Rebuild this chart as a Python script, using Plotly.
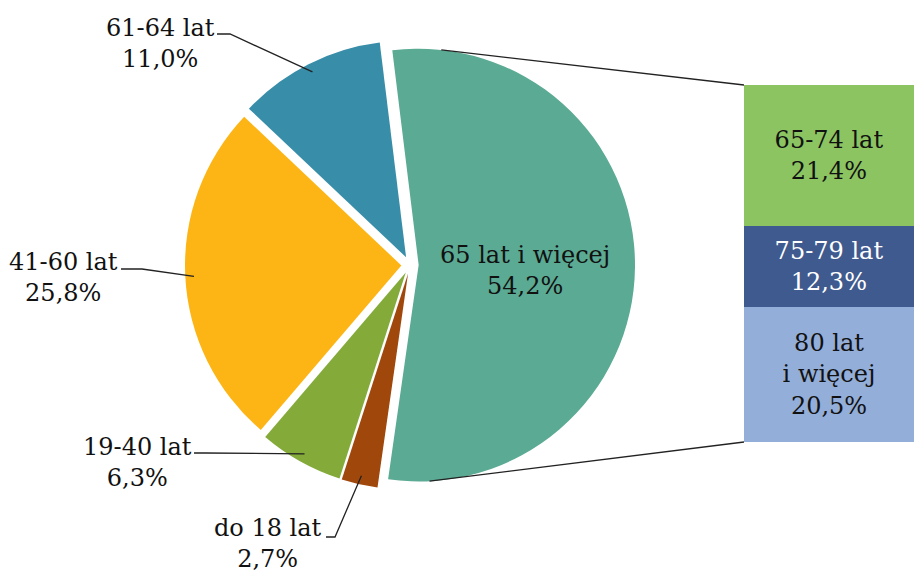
import math
import plotly.graph_objects as go

# ---- data ----
pie_labels = ["65 lat i więcej", "do 18 lat", "19-40 lat", "41-60 lat", "61-64 lat"]
pie_values = [54.2, 2.7, 6.3, 25.8, 11.0]
pie_colors = ["#5BAA93", "#A0470C", "#84AB3A", "#FDB515", "#388DA8"]

bar_labels = ["80 lat<br>i więcej", "75-79 lat", "65-74 lat"]
bar_values = [20.5, 12.3, 21.4]
bar_colors = ["#93AED9", "#3F5A8E", "#8CC462"]
bar_text_colors = ["#111111", "#FFFFFF", "#111111"]

W, H = 914, 576
FONT = "DejaVu Serif"
FS = 24

# ---- pie geometry (pixels) ----
cx, cy, half = 410, 265, 225
pull = 0.04
rotation = -7
r = half / (1 + pull)

def px(x, y):
    return x / W, 1 - y / H

def fmt(v):
    return f"{v:.1f}".replace(".", ",") + "%"

fig = go.Figure()
dx0, dy0 = px(cx - half, cy + half)
dx1, dy1 = px(cx + half, cy - half)
fig.add_trace(go.Pie(
    labels=pie_labels, values=pie_values, sort=False, direction="clockwise",
    rotation=rotation, pull=[pull] * len(pie_values),
    marker=dict(colors=pie_colors, line=dict(width=0)),
    textinfo="none", hoverinfo="label+percent", showlegend=False,
    domain=dict(x=[dx0, dx1], y=[dy0, dy1]),
))

for lab, val, col, tc in zip(bar_labels, bar_values, bar_colors, bar_text_colors):
    fig.add_trace(go.Bar(
        x=[0], y=[val], width=1, marker=dict(color=col, line=dict(width=0)),
        text=[f"{lab}<br>{fmt(val)}"], textposition="inside", insidetextanchor="middle",
        textangle=0, textfont=dict(family=FONT, size=FS, color=tc),
        showlegend=False, hoverinfo="skip",
    ))

bar_left, bar_top, bar_bottom = 744, 85, 442
fig.update_layout(
    width=W, height=H, margin=dict(l=0, r=0, t=0, b=0),
    paper_bgcolor="white", plot_bgcolor="white", barmode="stack",
    font=dict(family=FONT),
    uniformtext=dict(minsize=FS, mode="show"),
    xaxis=dict(domain=[bar_left / W, 1.0], range=[-0.5, 0.5], visible=False, fixedrange=True),
    yaxis=dict(domain=[1 - bar_bottom / H, 1 - bar_top / H], range=[0, sum(bar_values)],
               visible=False, fixedrange=True),
)

# slice angles
total = sum(pie_values)
angles = []
acc = rotation
for v in pie_values:
    a0 = acc
    a1 = acc + v / total * 360
    angles.append((a0, a1))
    acc = a1

def slice_point(i, theta, frac=1.0):
    a0, a1 = angles[i]
    mid = math.radians((a0 + a1) / 2)
    vx = cx + pull * r * math.sin(mid)
    vy = cy - pull * r * math.cos(mid)
    t = math.radians(theta)
    return vx + frac * r * math.sin(t), vy - frac * r * math.cos(t)

shapes = []
def line_path(pts):
    p = [px(x, y) for x, y in pts]
    d = "M " + " L ".join(f"{a:.5f},{b:.5f}" for a, b in p)
    shapes.append(dict(type="path", path=d, xref="paper", yref="paper",
                       line=dict(color="#222222", width=1.3)))

# connectors from big slice to bar
a0, a1 = angles[0]
tx, ty = slice_point(0, a0 + 13)
bx, by = slice_point(0, a1 - 11)
line_path([(tx, ty), (bar_left, bar_top)])
line_path([(bx, by), (bar_left, bar_bottom)])

# labels (text center positions in px) and leader elbows
label_pos = {
    0: (525, 270),
    1: (268, 543),
    2: (137, 462),
    3: (63, 277),
    4: (160, 43),
}
leader_start = {
    1: [(326, 537), (335, 537)],
    2: [(194, 453), (205, 453)],
    3: [(121, 269), (142, 269)],
    4: [(217, 34), (230, 34)],
}
for i, (x, y) in label_pos.items():
    ax, ay = px(x, y)
    fig.add_annotation(
        x=ax, y=ay, xref="paper", yref="paper", xanchor="center", yanchor="middle",
        text=f"{pie_labels[i]}<br>{fmt(pie_values[i])}", showarrow=False,
        font=dict(family=FONT, size=FS, color="#111111"), align="center",
    )
for i, pts in leader_start.items():
    a0, a1 = angles[i]
    ex, ey = slice_point(i, (a0 + a1) / 2, 0.96)
    line_path(pts + [(ex, ey)])

fig.update_layout(shapes=shapes)
fig.write_html("out.html", config={"displayModeBar": False},
               post_script="document.body.style.margin='0';document.body.style.overflow='hidden';")
